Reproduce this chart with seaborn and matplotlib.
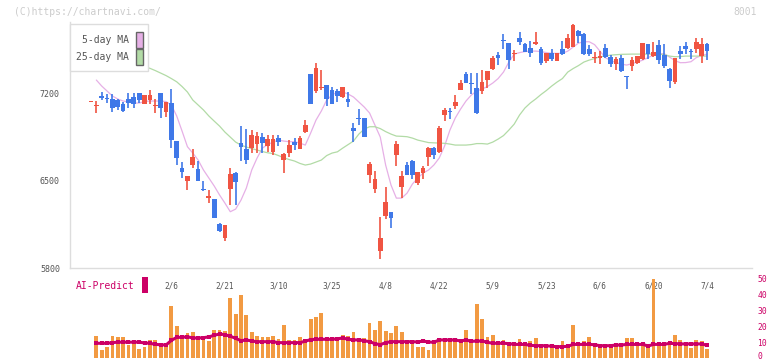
import numpy as np
import pandas as pd
import matplotlib
matplotlib.use("Agg")
import matplotlib.pyplot as plt
from matplotlib.patches import Rectangle
from matplotlib.transforms import ScaledTranslation
import seaborn as sns

# ---- data (8001, daily candles) ----
tick_labels = ["2/6", "2/21", "3/10", "3/25", "4/8", "4/22", "5/9", "5/23", "6/6", "6/20", "7/4"]
tick_index = [15, 25, 35, 45, 55, 65, 75, 85, 95, 105, 115]

opens = [7135, 7100, 7178, 7164, 7156, 7146, 7114, 7154, 7172, 7204,
         7111, 7146, 7100, 7204, 7052, 7122, 6817, 6603, 6497, 6625,
         6593, 6430, 6363, 6352, 6152, 6038, 6433, 6558, 6799, 6753,
         6763, 6793, 6847, 6777, 6731, 6844, 6665, 6719, 6809, 6751,
         6892, 7354, 7218, 7239, 7266, 7226, 7220, 7172, 7154, 6924,
         7002, 7004, 6545, 6430, 5938, 6216, 6248, 6705, 6451, 6625,
         6657, 6478, 6563, 6691, 6763, 6727, 7026, 7060, 7098, 7226,
         7354, 7277, 7239, 7218, 7306, 7394, 7506, 7626, 7605, 7516,
         7640, 7594, 7560, 7592, 7554, 7461, 7522, 7461, 7554, 7565,
         7568, 7701, 7675, 7554, 7482, 7480, 7560, 7493, 7432, 7480,
         7334, 7420, 7440, 7474, 7594, 7501, 7586, 7506, 7394, 7292,
         7538, 7578, 7536, 7554, 7501, 7594]
highs = [7135, 7135, 7212, 7191, 7194, 7154, 7127, 7199, 7199, 7204,
         7186, 7226, 7151, 7204, 7130, 7234, 6817, 6651, 6537, 6753,
         6657, 6497, 6425, 6352, 6162, 6144, 6603, 6571, 6937, 6913,
         6905, 6892, 6879, 6865, 6865, 6865, 6723, 6825, 6844, 6857,
         6985, 7354, 7445, 7386, 7266, 7252, 7234, 7252, 7212, 6964,
         7074, 7004, 6646, 6577, 6211, 6451, 6248, 6817, 6577, 6651,
         6665, 6571, 6619, 6771, 6771, 6937, 7079, 7079, 7186, 7306,
         7372, 7360, 7360, 7386, 7378, 7498, 7533, 7672, 7605, 7546,
         7688, 7600, 7618, 7688, 7568, 7522, 7554, 7522, 7618, 7675,
         7752, 7707, 7680, 7586, 7528, 7538, 7594, 7506, 7488, 7506,
         7340, 7488, 7501, 7602, 7594, 7608, 7626, 7594, 7402, 7485,
         7578, 7608, 7552, 7642, 7642, 7600]
lows = [7135, 7039, 7146, 7119, 7052, 7066, 7052, 7084, 7084, 7124,
        7111, 7111, 7039, 7004, 7012, 6763, 6625, 6518, 6425, 6598,
        6497, 6417, 6318, 6203, 6090, 6018, 6304, 6304, 6657, 6630,
        6719, 6719, 6723, 6731, 6705, 6777, 6563, 6691, 6745, 6751,
        6879, 7114, 7199, 7226, 7098, 7114, 7132, 7159, 7092, 6812,
        6945, 6847, 6483, 6403, 5869, 6192, 6122, 6619, 6358, 6545,
        6510, 6465, 6513, 6619, 6673, 6719, 6980, 6993, 7071, 7226,
        7279, 7194, 7034, 7194, 7244, 7386, 7426, 7554, 7394, 7461,
        7586, 7528, 7493, 7586, 7426, 7445, 7461, 7461, 7506, 7552,
        7568, 7605, 7506, 7498, 7440, 7434, 7480, 7408, 7386, 7372,
        7234, 7378, 7432, 7466, 7474, 7488, 7434, 7400, 7244, 7272,
        7474, 7512, 7474, 7520, 7445, 7466]
closes = [7135, 7106, 7164, 7151, 7079, 7092, 7060, 7124, 7111, 7146,
          7186, 7186, 7106, 7079, 7130, 6828, 6683, 6571, 6537, 6691,
          6497, 6425, 6379, 6203, 6098, 6144, 6553, 6491, 6771, 6665,
          6865, 6857, 6799, 6831, 6831, 6812, 6713, 6785, 6785, 6844,
          6945, 7114, 7405, 7252, 7154, 7114, 7178, 7252, 7132, 6897,
          6998, 6852, 6633, 6513, 6038, 6331, 6203, 6793, 6537, 6545,
          6545, 6566, 6603, 6763, 6705, 6924, 7066, 7055, 7132, 7284,
          7284, 7273, 7044, 7292, 7378, 7485, 7485, 7620, 7466, 7520,
          7613, 7533, 7525, 7608, 7445, 7522, 7477, 7522, 7512, 7642,
          7747, 7659, 7512, 7512, 7485, 7498, 7493, 7434, 7474, 7378,
          7330, 7466, 7498, 7602, 7514, 7533, 7466, 7420, 7300, 7485,
          7512, 7557, 7533, 7608, 7594, 7541]

ma5 = [np.nan, 7306, 7258, 7218, 7178, 7154, 7138, 7130, 7122, 7122,
       7134, 7138, 7138, 7138, 7134, 7106, 7018, 6897, 6772, 6721,
       6665, 6585, 6521, 6457, 6385, 6320, 6251, 6272, 6344, 6441,
       6585, 6681, 6761, 6789, 6809, 6825, 6817, 6812, 6812, 6801,
       6785, 6881, 6985, 7058, 7146, 7186, 7210, 7210, 7194, 7170,
       7130, 7090, 7042, 6945, 6849, 6625, 6465, 6360, 6360, 6400,
       6473, 6521, 6561, 6585, 6625, 6681, 6777, 6905, 7002, 7074,
       7138, 7186, 7218, 7234, 7254, 7282, 7318, 7370, 7450, 7514,
       7526, 7534, 7538, 7538, 7534, 7526, 7520, 7520, 7520, 7538,
       7570, 7602, 7613, 7613, 7590, 7538, 7486, 7462, 7446, 7434,
       7426, 7438, 7450, 7466, 7486, 7506, 7514, 7518, 7490, 7462,
       7445, 7446, 7453, 7486, 7502, 7514]
ma25 = [7530, 7522, 7514, 7506, 7498, 7486, 7474, 7458, 7442, 7426,
        7413, 7400, 7382, 7362, 7342, 7318, 7292, 7254, 7210, 7146,
        7106, 7066, 7018, 6977, 6937, 6889, 6849, 6809, 6785, 6769,
        6757, 6745, 6733, 6723, 6717, 6701, 6683, 6669, 6657, 6638,
        6625, 6633, 6649, 6665, 6701, 6721, 6731, 6761, 6789, 6817,
        6873, 6913, 6932, 6932, 6917, 6893, 6873, 6857, 6855, 6852,
        6841, 6825, 6815, 6805, 6803, 6801, 6799, 6793, 6785, 6785,
        6785, 6789, 6797, 6797, 6793, 6809, 6833, 6861, 6905, 6953,
        7026, 7082, 7122, 7154, 7190, 7222, 7258, 7290, 7318, 7370,
        7398, 7422, 7450, 7466, 7478, 7493, 7498, 7506, 7509, 7512,
        7513, 7514, 7514, 7514, 7514, 7514, 7514, 7510, 7498, 7493,
        7494, 7498, 7498, 7498, 7498, 7498]

volume = [np.nan, 13.8, 5.0, 6.9, 13.8, 13.1, 13.1, 8.1, 9.2, 5.6,
          6.9, 11.3, 11.3, 8.5, 8.5, 32.5, 20.0, 12.7, 15.8, 16.3,
          12.1, 13.8, 10.6, 17.5, 17.5, 16.9, 37.5, 27.7, 39.6, 26.9,
          16.5, 13.8, 13.1, 13.1, 13.8, 11.7, 20.6, 11.3, 11.3, 13.1,
          11.3, 24.4, 25.6, 28.3, 11.3, 11.3, 10.6, 14.4, 13.8, 16.5,
          12.3, 12.7, 22.1, 17.5, 23.1, 16.9, 15.8, 20.0, 16.3, 11.3,
          9.2, 7.1, 6.9, 5.0, 10.6, 11.9, 11.7, 11.3, 10.6, 10.2,
          17.5, 11.3, 34.0, 24.4, 13.1, 14.4, 7.9, 11.3, 10.0, 8.1,
          11.9, 7.5, 10.6, 12.7, 7.5, 7.5, 7.5, 7.5, 10.6, 7.5,
          20.6, 10.2, 10.6, 13.1, 8.8, 7.5, 8.1, 6.5, 9.2, 7.5,
          12.7, 12.7, 7.5, 9.2, 7.5, 49.2, 8.1, 7.5, 9.2, 14.4,
          11.3, 9.2, 6.5, 11.3, 10.6, 5.6]
ai_predict = [np.nan, 9.2, 9.2, 9.2, 9.6, 9.9, 9.9, 9.9, 9.9, 9.9,
              9.4, 9.2, 8.5, 8.3, 8.1, 11.0, 12.9, 12.9, 13.3, 12.5,
              12.5, 12.7, 13.2, 14.2, 15.0, 14.6, 13.6, 12.3, 10.8, 11.3,
              10.6, 10.2, 10.2, 10.2, 10.2, 9.6, 9.6, 9.6, 9.6, 9.6,
              10.5, 11.5, 11.7, 11.7, 11.7, 11.7, 12.0, 12.5, 11.7, 11.3,
              11.3, 10.8, 10.2, 9.0, 8.3, 9.6, 10.2, 10.2, 10.2, 10.2,
              10.2, 10.0, 10.6, 10.0, 9.8, 11.3, 11.3, 11.3, 11.3, 10.6,
              11.3, 10.4, 10.6, 10.6, 9.8, 9.2, 9.2, 9.2, 9.0, 8.5,
              8.5, 8.5, 7.9, 7.7, 7.7, 7.7, 7.3, 7.1, 7.1, 7.3,
              8.5, 8.5, 8.5, 8.5, 8.3, 7.7, 7.7, 7.7, 8.1, 8.1,
              8.5, 8.5, 8.5, 8.5, 7.5, 8.5, 8.5, 8.5, 9.2, 9.0,
              8.8, 8.8, 8.8, 8.8, 8.8, 7.9]

RED = "#f05442"
BLUE = "#3f78e8"
PINK = "#e6b0e6"
GREEN = "#b2dba6"
ORANGE = "#f29a42"
CRIMSON = "#cc0066"
GRID = "#dddddd"
TXT = "#555555"

sns.set_style("white")
plt.rcParams['font.family'] = ['DejaVu Sans Mono', 'DejaVu Sans']

df = pd.DataFrame({"open": opens, "high": highs, "low": lows, "close": closes,
                   "ma5": ma5, "ma25": ma25, "volume": volume, "ai": ai_predict})
df["x"] = np.arange(len(df))
up = df["close"] >= df["open"]
colors = np.where(up, RED, BLUE)

fig = plt.figure(figsize=(7.72, 3.61), dpi=100)
W, H = 772, 361
xlim = ((70 - 91) / 5.357, (752 - 91) / 5.357)

# ---- price panel ----
ax = fig.add_axes([70 / W, (H - 268) / H, 682 / W, 246 / H])
ax.set_xlim(*xlim)
ax.set_ylim(5800, 5800 + 246 * 8.013)

ax.vlines(df["x"], df["low"], df["high"], colors=colors, lw=1.2, zorder=2)
diff = (df["close"] - df["open"]).abs()
body_h = np.maximum(diff, 9)
body_bottom = np.where(diff < 9, (df["open"] + df["close"]) / 2 - 4.5,
                       np.minimum(df["open"], df["close"]))
ax.bar(df["x"], body_h, bottom=body_bottom, width=0.88, color=colors, linewidth=0, zorder=3)

sns.lineplot(data=df, x="x", y="ma5", ax=ax, color=PINK, lw=0.9, zorder=1)
sns.lineplot(data=df, x="x", y="ma25", ax=ax, color=GREEN, lw=0.9, zorder=1)
ax.set_xlabel("")
ax.set_ylabel("")

for s in ["top", "right"]:
    ax.spines[s].set_visible(False)
for s in ["left", "bottom"]:
    ax.spines[s].set_color(GRID)
    ax.spines[s].set_linewidth(1)

ax.set_yticks([5800, 6500, 7200])
ax.tick_params(axis="y", direction="inout", length=6.5, color=GRID, labelcolor=TXT,
               labelsize=6, pad=4)
ax.set_xticks(np.linspace(xlim[0], xlim[1], 12))
ax.set_xticklabels([])
ax.tick_params(axis="x", which="major", direction="inout", length=6, color=GRID)
ax.set_xticks(tick_index, minor=True)
ax.set_xticklabels(tick_labels, minor=True)
ax.tick_params(axis="x", which="minor", length=0, labelcolor=TXT, labelsize=5.6, pad=10)

# legend box drawn by hand
ax.add_patch(Rectangle((0, 1 - 49 / 246), 78 / 682, 47 / 246, transform=ax.transAxes,
                       facecolor="white", edgecolor=GRID, lw=1, zorder=10, clip_on=False))
for lab, col, yy in [("5-day MA", PINK, 40), ("25-day MA", GREEN, 57)]:
    fig.text(129 / W, 1 - yy / H, lab, ha="right", va="center", fontsize=7,
             color=TXT, zorder=11)
    fig.patches.append(Rectangle((136 / W, 1 - (yy + 7.5) / H), 7 / W, 15 / H,
                                 transform=fig.transFigure, facecolor=col,
                                 edgecolor="#666666", lw=1, zorder=11))

# ---- volume / AI-Predict panel ----
ax2 = fig.add_axes([70 / W, (H - 358) / H, 682 / W, 84 / H])
ax2.patch.set_visible(False)
ax2.set_xlim(*xlim)
ax2.set_ylim(0, 84 / 1.6)
ax2.bar(df["x"], df["volume"], width=0.7, color=ORANGE, linewidth=0, zorder=2)
sns.lineplot(data=df, x="x", y="ai", ax=ax2, color=CRIMSON, lw=2.2, marker="s",
             markersize=3, markeredgewidth=0, zorder=3)
ax2.set_xlabel("")
ax2.set_ylabel("")
for s in ax2.spines.values():
    s.set_visible(False)
ax2.set_xticks([])
ax2.yaxis.tick_right()
ax2.set_yticks([0, 10, 20, 30, 40, 50])
ax2.tick_params(axis="y", length=0, labelcolor=CRIMSON, labelsize=5.8, pad=4)
# lift the bottom "0" a little so it stays inside the picture
zero_lbl = ax2.get_yticklabels()[0]
zero_lbl.set_transform(zero_lbl.get_transform() + ScaledTranslation(0, 1.6 / 72, fig.dpi_scale_trans))

fig.text(76 / W, 1 - 286 / H, "AI-Predict", ha="left", va="center", fontsize=7, color=CRIMSON)
fig.patches.append(Rectangle((142 / W, 1 - 293 / H), 6 / W, 16 / H, transform=fig.transFigure,
                             facecolor=CRIMSON, edgecolor="none"))

fig.text(14 / W, 1 - 12 / H, "(C)https://chartnavi.com/", ha="left", va="center",
         fontsize=7, color="#cccccc")
fig.text(757 / W, 1 - 12 / H, "8001", ha="right", va="center", fontsize=7, color="#cccccc")

fig.savefig("out.png", dpi=100)
